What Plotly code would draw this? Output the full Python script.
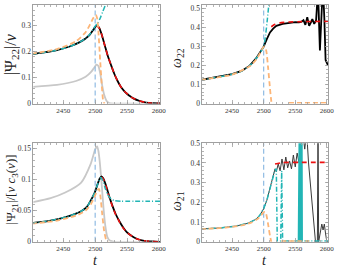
import plotly.graph_objects as go

# ---------------- data ----------------
# Top-left: |Psi22|/nu
tl_num_t = [2400, 2420, 2440, 2460, 2475, 2485, 2492, 2497, 2500, 2503, 2506, 2510, 2515, 2520, 2525, 2530, 2535, 2540, 2545, 2550, 2555, 2560, 2570, 2580, 2590, 2602]
tl_num_v = [0.190, 0.197, 0.206, 0.220, 0.236, 0.251, 0.267, 0.284, 0.295, 0.300, 0.293, 0.268, 0.225, 0.182, 0.148, 0.115, 0.088, 0.066, 0.050, 0.038, 0.028, 0.020, 0.010, 0.004, 0.0015, 0.0005]
tl_fit_t = [2502, 2506, 2510, 2515, 2520, 2525, 2530, 2535, 2540, 2545, 2550, 2555, 2560, 2570, 2580, 2590, 2602]
tl_fit_v = [0.300, 0.293, 0.268, 0.225, 0.182, 0.148, 0.115, 0.088, 0.066, 0.050, 0.038, 0.028, 0.020, 0.010, 0.004, 0.0015, 0.0005]
tl_pn_t = [2400, 2420, 2440, 2460, 2475, 2485, 2492, 2497, 2500, 2504, 2508, 2512, 2516, 2520]
tl_pn_v = [0.190, 0.197, 0.206, 0.220, 0.236, 0.251, 0.268, 0.287, 0.298, 0.310, 0.330, 0.355, 0.380, 0.410]
tl_eob_t = [2400, 2440, 2470, 2485, 2492, 2497, 2501, 2503, 2505, 2508, 2511, 2513, 2515]
tl_eob_v = [0.192, 0.210, 0.240, 0.275, 0.305, 0.330, 0.342, 0.330, 0.280, 0.160, 0.050, 0.005, 0.0]
tl_gray_t = [2400, 2440, 2470, 2485, 2494, 2499, 2502, 2505, 2508, 2511, 2514, 2518, 2522, 2530, 2602]
tl_gray_v = [0.064, 0.072, 0.087, 0.103, 0.123, 0.140, 0.150, 0.145, 0.115, 0.070, 0.035, 0.010, 0.002, 0.0, 0.0]

# Top-right: omega22
tr_num_t = [2400, 2425, 2450, 2465, 2478, 2488, 2495, 2500, 2505, 2510, 2515, 2520, 2530, 2540, 2550, 2556, 2560, 2563, 2566, 2569, 2572, 2575, 2577, 2580, 2583, 2586, 2589, 2592, 2594, 2596, 2598, 2602]
tr_num_v = [0.124, 0.138, 0.155, 0.172, 0.200, 0.238, 0.272, 0.300, 0.340, 0.375, 0.395, 0.410, 0.420, 0.425, 0.430, 0.428, 0.432, 0.440, 0.415, 0.455, 0.410, 0.430, 0.445, 0.420, 0.440, 0.600, 0.280, 0.500, 0.600, 0.450, 0.230, 0.200]
tr_fit_t = [2512, 2518, 2525, 2540, 2560, 2580, 2602]
tr_fit_v = [0.405, 0.418, 0.425, 0.430, 0.432, 0.433, 0.434]
tr_pn_t = [2400, 2425, 2450, 2465, 2478, 2488, 2495, 2500, 2503, 2506, 2509]
tr_pn_v = [0.124, 0.138, 0.155, 0.172, 0.200, 0.238, 0.272, 0.300, 0.360, 0.450, 0.550]
tr_eob_t = [2400, 2450, 2478, 2490, 2497, 2501, 2504, 2507, 2510, 2512, 2513, None, 2540, 2602]
tr_eob_v = [0.125, 0.153, 0.197, 0.240, 0.285, 0.302, 0.280, 0.190, 0.080, 0.015, 0.0, None, 0.004, 0.004]

# Bottom-left: |Psi21|/[nu c3(nu)]
bl_num_t = [2400, 2430, 2455, 2478, 2487, 2494, 2499, 2503, 2507, 2510, 2513, 2517, 2522, 2527, 2532, 2538, 2544, 2550, 2558, 2565, 2575, 2590, 2602]
bl_num_v = [0.030, 0.034, 0.040, 0.049, 0.056, 0.068, 0.078, 0.090, 0.101, 0.105, 0.101, 0.090, 0.073, 0.058, 0.045, 0.033, 0.023, 0.015, 0.009, 0.005, 0.002, 0.0005, 0.0]
bl_fit_t = [2510, 2513, 2517, 2522, 2527, 2532, 2538, 2544, 2550, 2558, 2565, 2575, 2590, 2602]
bl_fit_v = [0.104, 0.100, 0.089, 0.072, 0.057, 0.044, 0.032, 0.022, 0.015, 0.009, 0.005, 0.002, 0.0005, 0.0]
bl_pn_t = [2400, 2430, 2455, 2478, 2487, 2494, 2499, 2503, 2507, 2509, 2512, 2516, 2520, 2525, 2530, 2540, 2602]
bl_pn_v = [0.030, 0.034, 0.040, 0.049, 0.056, 0.068, 0.078, 0.090, 0.100, 0.103, 0.098, 0.085, 0.075, 0.069, 0.066, 0.065, 0.065]
bl_eob_t = [2400, 2440, 2470, 2485, 2493, 2499, 2503, 2506, 2508, 2511, 2514, 2517, 2520]
bl_eob_v = [0.029, 0.034, 0.042, 0.050, 0.060, 0.072, 0.082, 0.085, 0.075, 0.045, 0.018, 0.004, 0.0]
bl_gray_t = [2400, 2430, 2453, 2478, 2493, 2500, 2503, 2505, 2507, 2510, 2513, 2516, 2519, 2523, 2530, 2602]
bl_gray_v = [0.063, 0.070, 0.079, 0.095, 0.125, 0.148, 0.153, 0.146, 0.130, 0.095, 0.055, 0.025, 0.008, 0.002, 0.0, 0.0]

# Bottom-right: omega21
br_num_t = [2400, 2430, 2455, 2475, 2487, 2494, 2500, 2505, 2509, 2512, 2515, 2518, 2520, 2523, 2526, 2529, 2532, 2535, 2538, 2541, 2544, 2547, 2550, 2553, 2556, 2559, 2562, 2565, 2568, 2571, 2575, 2579, 2582, 2585, 2586, 2587, 2590, 2592, 2594, 2596, 2598, 2600, 2602]
br_num_v = [0.065, 0.070, 0.079, 0.094, 0.113, 0.135, 0.168, 0.210, 0.260, 0.300, 0.340, 0.370, 0.355, 0.395, 0.360, 0.420, 0.365, 0.430, 0.375, 0.410, 0.370, 0.440, 0.380, 0.450, 0.400, 0.490, 0.550, 0.470, 0.560, 0.400, 0.250, 0.100, 0.0, 0.0, 0.600, 0.0, 0.060, 0.090, 0.060, 0.090, 0.040, 0.0, 0.0]
br_fit_t = [2518, 2530, 2560, 2602]
br_fit_v = [0.395, 0.402, 0.403, 0.403]
br_pn_t = [2400, 2430, 2455, 2475, 2487, 2494, 2500, 2505, 2510, 2514, 2518, 2520, 2521.5, 2527, 2528.5, 2530, 2602]
br_pn_v = [0.065, 0.070, 0.079, 0.094, 0.113, 0.135, 0.168, 0.210, 0.270, 0.320, 0.365, 0.370, 0.004, 0.004, 0.360, 0.004, 0.004]
br_pn_band_t = [2555, 2555.5, 2556, 2556.5, 2557, 2557.5, 2558, 2558.5, 2559, 2559.5, 2560, 2560.5, 2561]
br_pn_band_v = [0.0, 0.60, 0.0, 0.60, 0.0, 0.60, 0.0, 0.60, 0.0, 0.60, 0.0, 0.60, 0.0]
br_eob_t = [2400, 2440, 2465, 2480, 2490, 2496, 2500, 2502, 2504, 2507, 2510, 2512, None, 2528, 2572]
br_eob_v = [0.064, 0.072, 0.083, 0.097, 0.115, 0.135, 0.150, 0.152, 0.140, 0.090, 0.030, 0.0, None, 0.004, 0.004]

t_merger = 2500
x_ticks = [2450, 2500, 2550, 2600]
x_range = [2403, 2602]

# ---------------- styles ----------------
C_NUM = "#000000"
C_FIT = "#ee1111"
C_PN = "#22b5b5"
C_EOB = "#fcb577"
C_GRAY = "#c8c8c8"
C_VLINE = "#8fbbe3"
FONT = "Liberation Serif"

fig = go.Figure()

panels = {
    "tl": dict(xa="x", ya="y", xd=[34/341, 163/341], yd=[1-103/271, 1-1/271], yr=[0, 0.38],
               yt=[0, 0.1, 0.2, 0.3], ytt=["0", "0.1", "0.2", "0.3"], ymin=0.02),
    "tr": dict(xa="x2", ya="y2", xd=[206/341, 334/341], yd=[1-103/271, 1-1/271], yr=[0, 0.52],
               yt=[0, 0.1, 0.2, 0.3, 0.4, 0.5], ytt=["0", "0.1", "0.2", "0.3", "0.4", "0.5"], ymin=0.02),
    "bl": dict(xa="x3", ya="y3", xd=[34/341, 163/341], yd=[1-246/271, 1-144/271], yr=[0, 0.158],
               yt=[0, 0.05, 0.1, 0.15], ytt=["0", "0.05", "0.1", "0.15"], ymin=0.01),
    "br": dict(xa="x4", ya="y4", xd=[206/341, 334/341], yd=[1-246/271, 1-144/271], yr=[0, 0.5],
               yt=[0, 0.1, 0.2, 0.3, 0.4, 0.5], ytt=["0", "0.1", "0.2", "0.3", "0.4", "0.5"], ymin=0.02),
}

def add(p, t, v, color, width, dash="solid", shape="spline"):
    fig.add_trace(go.Scatter(x=t, y=v, mode="lines", xaxis=panels[p]["xa"], yaxis=panels[p]["ya"],
                             line=dict(color=color, width=width, dash=dash, shape=shape, smoothing=0.6),
                             connectgaps=False, showlegend=False, hoverinfo="skip"))

def vline(p, top):
    add(p, [t_merger, t_merger], [0, top], C_VLINE, 1.2, dash="5px,3px", shape="linear")

PN_DASH = "5px,2px,1px,2px"

# top-left
add("tl", tl_gray_t, tl_gray_v, C_GRAY, 1.8)
vline("tl", 0.38)
add("tl", tl_num_t, tl_num_v, C_NUM, 1.8)
add("tl", tl_fit_t, tl_fit_v, C_FIT, 1.6, dash="5px,4px")
add("tl", tl_pn_t, tl_pn_v, C_PN, 1.5, dash=PN_DASH)
add("tl", tl_eob_t, tl_eob_v, C_EOB, 1.8, dash="5px,3px")

# top-right
vline("tr", 0.52)
add("tr", tr_num_t, tr_num_v, C_NUM, 1.8, shape="linear")
add("tr", tr_fit_t, tr_fit_v, C_FIT, 1.6, dash="5px,4px")
add("tr", tr_pn_t, tr_pn_v, C_PN, 1.5, dash=PN_DASH)
add("tr", tr_eob_t, tr_eob_v, C_EOB, 1.8, dash="5px,3px")

# bottom-left
add("bl", bl_gray_t, bl_gray_v, C_GRAY, 1.8)
vline("bl", 0.158)
add("bl", bl_num_t, bl_num_v, C_NUM, 1.8)
add("bl", bl_fit_t, bl_fit_v, C_FIT, 1.6, dash="5px,4px")
add("bl", bl_pn_t, bl_pn_v, C_PN, 1.5, dash=PN_DASH)
add("bl", bl_eob_t, bl_eob_v, C_EOB, 1.8, dash="5px,3px")

# bottom-right
vline("br", 0.5)
add("br", br_num_t, br_num_v, "#3a3a3a", 1.0, shape="linear")
add("br", br_pn_t, br_pn_v, C_PN, 1.5, dash=PN_DASH, shape="linear")
add("br", br_pn_band_t, br_pn_band_v, C_PN, 1.5, shape="linear")
add("br", br_fit_t, br_fit_v, C_FIT, 1.6, dash="5px,4px")
add("br", br_eob_t, br_eob_v, C_EOB, 1.8, dash="5px,3px")

axis_common = dict(showline=True, linecolor="#a0a0a0", linewidth=1, mirror="allticks",
                   ticks="inside", ticklen=3.5, tickcolor="#a0a0a0", tickwidth=0.8,
                   showgrid=False, zeroline=False)

layout = dict(width=341, height=271, margin=dict(l=0, r=0, t=0, b=0),
              paper_bgcolor="white", plot_bgcolor="white", font=dict(family=FONT))

for i, (k, p) in enumerate(panels.items()):
    sfx = "" if i == 0 else str(i + 1)
    layout["xaxis" + sfx] = dict(axis_common, domain=p["xd"], range=x_range, anchor=p["ya"],
                                 tickmode="array", tickvals=x_ticks, ticktext=[str(v) for v in x_ticks],
                                 tickfont=dict(family=FONT, size=7, color="#333333"),
                                 minor=dict(ticks="inside", ticklen=2, tickcolor="#a0a0a0",
                                            tickmode="linear", tick0=2400, dtick=10))
    layout["yaxis" + sfx] = dict(axis_common, domain=p["yd"], range=p["yr"], anchor=p["xa"],
                                 tickmode="array", tickvals=p["yt"], ticktext=p["ytt"],
                                 tickfont=dict(family=FONT, size=7.5, color="#333333"),
                                 minor=dict(ticks="inside", ticklen=2, tickcolor="#a0a0a0",
                                            tickmode="linear", tick0=0, dtick=p["ymin"]))

fig.update_layout(**layout)

ann = [
    dict(text="|Ψ<sub>22</sub>|/<i>ν</i>", x=11/341, y=1-52/271, size=16),
    dict(text="<i>ω</i><sub>22</sub>", x=180/341, y=1-56/271, size=14),
    dict(text="|Ψ<sub>21</sub>|/[<i>ν c</i><sub>3</sub>(<i>ν</i>)]", x=12/341, y=1-192/271, size=13),
    dict(text="<i>ω</i><sub>21</sub>", x=180/341, y=1-204/271, size=14),
]
for a in ann:
    fig.add_annotation(text=a["text"], x=a["x"], y=a["y"], xref="paper", yref="paper",
                       showarrow=False, textangle=-90, font=dict(family=FONT, size=a["size"], color="#222222"),
                       xanchor="center", yanchor="middle")
for xc in [97, 269]:
    fig.add_annotation(text="<i>t</i>", x=xc/341, y=1-265/271, xref="paper", yref="paper",
                       showarrow=False, font=dict(family=FONT, size=14, color="#222222"),
                       xanchor="center", yanchor="middle")

fig.write_html("out.html", config={"displayModeBar": False, "staticPlot": True},
               post_script="document.body.style.margin='0';document.body.style.overflow='hidden';")
